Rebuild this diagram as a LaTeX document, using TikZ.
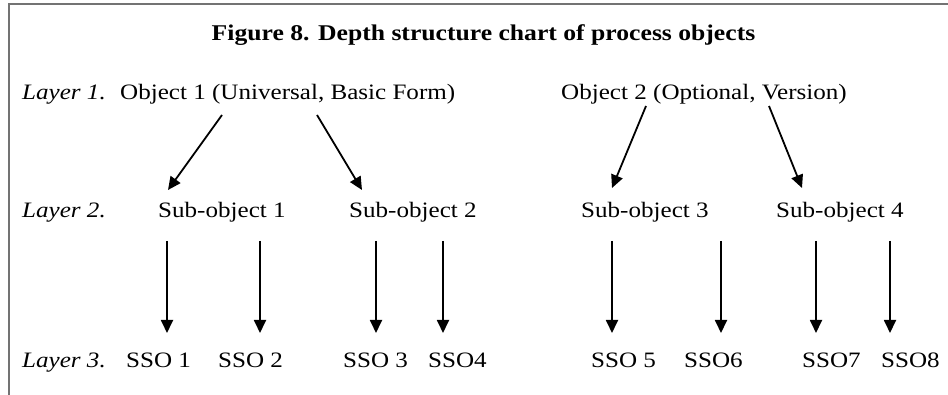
\documentclass[tikz,border=0pt]{standalone}
\usepackage{fontspec}
\setmainfont{Liberation Serif}[FakeStretch=1.14]
\usetikzlibrary{arrows.meta}
\begin{document}
\begin{tikzpicture}[x=1pt,y=-1pt,
  txt/.style={anchor=base west,inner sep=0pt,font=\fontsize{22}{26}\selectfont},
  lay/.style={txt,font=\fontsize{22}{26}\selectfont\itshape},
  ttl/.style={anchor=base,inner sep=0pt,font=\fontsize{22.5}{26}\selectfont\bfseries},
  arr/.style={line width=1.8pt,-{Triangle[length=13pt,width=12pt]}},
  frame/.style={draw=black!55,line width=2pt}]
\useasboundingbox (0,0) rectangle (948,395);
\draw[frame] (9,395) -- (9,4.5) -- (948,4.5);
\node[ttl] (title) at (483.5,41) {Figure 8. Depth structure chart of process objects};
\node[lay] (l1) at (22,100) {Layer 1.};
\node[lay] (l2) at (22,218) {Layer 2.};
\node[lay] (l3) at (22,367) {Layer 3.};
\node[txt] (o1) at (120,100) {Object 1 (Universal, Basic Form)};
\node[txt] (o2) at (561,100) {Object 2 (Optional, Version)};
\node[txt] (s1) at (158,218) {Sub-object 1};
\node[txt] (s2) at (349,218) {Sub-object 2};
\node[txt] (s3) at (581,218) {Sub-object 3};
\node[txt] (s4) at (776,218) {Sub-object 4};
\node[txt] (t1) at (126,367) {SSO 1};
\node[txt] (t2) at (218,367) {SSO 2};
\node[txt] (t3) at (343,367) {SSO 3};
\node[txt] (t4) at (428,367) {SSO4};
\node[txt] (t5) at (591,367) {SSO 5};
\node[txt] (t6) at (684,367) {SSO6};
\node[txt] (t7) at (802,367) {SSO7};
\node[txt] (t8) at (881,367) {SSO8};
% layer 1 -> layer 2
\draw[arr] ([shift={(102,15)}]o1.base west) -- ([shift={(10,-28)}]s1.base west);
\draw[arr] ([shift={(197,15)}]o1.base west) -- ([shift={(13,-28)}]s2.base west);
\draw[arr] ([shift={(85,6)}]o2.base west) -- ([shift={(31,-30)}]s3.base west);
\draw[arr] ([shift={(208,6)}]o2.base west) -- ([shift={(26,-30)}]s4.base west);
% layer 2 -> layer 3
\draw[arr] ([shift={(9,23)}]s1.base west) -- ([shift={(41,-34)}]t1.base west);
\draw[arr] ([shift={(102,23)}]s1.base west) -- ([shift={(42,-34)}]t2.base west);
\draw[arr] ([shift={(27,23)}]s2.base west) -- ([shift={(33,-34)}]t3.base west);
\draw[arr] ([shift={(94,23)}]s2.base west) -- ([shift={(15,-34)}]t4.base west);
\draw[arr] ([shift={(31,23)}]s3.base west) -- ([shift={(21,-34)}]t5.base west);
\draw[arr] ([shift={(140,23)}]s3.base west) -- ([shift={(37,-34)}]t6.base west);
\draw[arr] ([shift={(40,23)}]s4.base west) -- ([shift={(14,-34)}]t7.base west);
\draw[arr] ([shift={(114,23)}]s4.base west) -- ([shift={(9,-34)}]t8.base west);
\end{tikzpicture}
\end{document}
